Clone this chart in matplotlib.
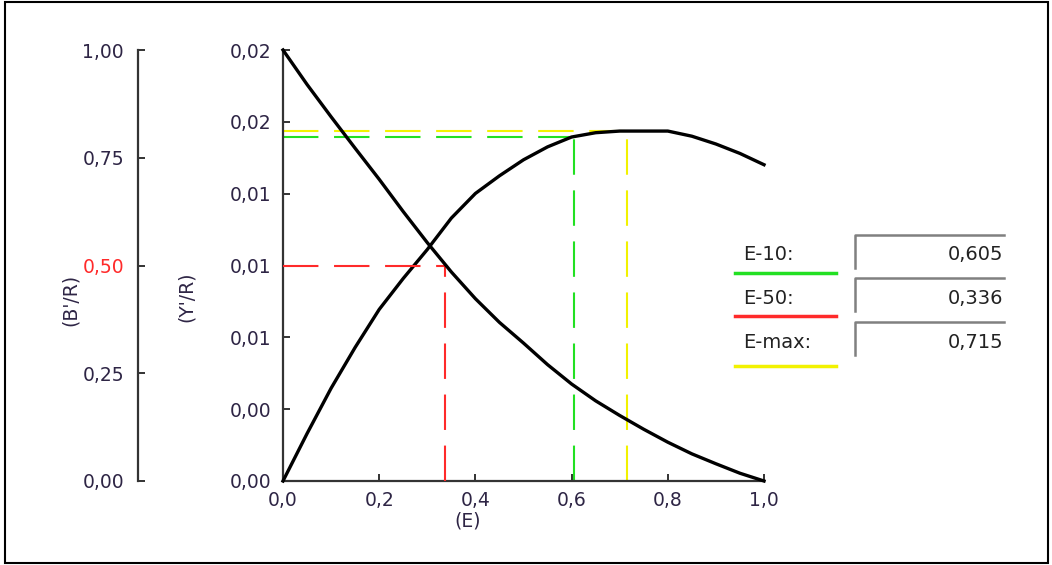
"""
Efficiency curves: B'/R (falling) and Y'/R (rising) against E,
with the E-10, E-50 and E-max markers and a value panel on the right.
"""
import matplotlib
matplotlib.use("Agg")
import matplotlib.pyplot as plt
from matplotlib.patches import Rectangle
from matplotlib.lines import Line2D
from matplotlib.ticker import FuncFormatter

# --- Data ---
e_vals = [0.0, 0.05, 0.1, 0.15, 0.2, 0.25, 0.3, 0.35, 0.4, 0.45, 0.5,
          0.55, 0.6, 0.65, 0.7, 0.75, 0.8, 0.85, 0.9, 0.95, 1.0]
b_r = [1.0, 0.92, 0.845, 0.772, 0.70, 0.625, 0.553, 0.485, 0.423, 0.368, 0.320,
       0.270, 0.225, 0.186, 0.152, 0.120, 0.090, 0.063, 0.040, 0.018, 0.0]
y_r = [0.0, 0.00231, 0.00452, 0.00651, 0.00836, 0.00987, 0.01128, 0.01281,
       0.01401, 0.01487, 0.01565, 0.01628, 0.01676, 0.01697, 0.01705, 0.01705,
       0.01705, 0.01680, 0.01642, 0.01596, 0.01541]

e10, e50, emax = 0.605, 0.336, 0.715
y_e10 = 0.01676
y_emax = 0.01705
b_half = 0.50

y_ticks = [0.0, 0.0035, 0.007, 0.0105, 0.014, 0.0175, 0.021]
b_ticks = [0.0, 0.25, 0.50, 0.75, 1.00]
x_ticks = [0.0, 0.2, 0.4, 0.6, 0.8, 1.0]

TXT = "#2e2545"
GREEN = "#22e022"
RED = "#ff2a2a"
YELLOW = "#f2f200"
DASH = (17, 7.5)
FS = 13.5

plt.rcParams["font.family"] = ["DejaVu Sans"]

W, H = 1052, 565
fig = plt.figure(figsize=(W / 100, H / 100), dpi=100)

def fx(px):
    return px / W

def fy(py):
    return 1 - py / H

# main axes (Y'/R)
ax = fig.add_axes([fx(283), fy(481), fx(764) - fx(283), fy(50) - fy(481)])
ax.set_xlim(0, 1)
ax.set_ylim(0, 0.021)
for s in ["top", "right"]:
    ax.spines[s].set_visible(False)
for s in ["left", "bottom"]:
    ax.spines[s].set_linewidth(1.6)
    ax.spines[s].set_color("#333333")

comma = lambda fmt: FuncFormatter(lambda v, p: format(v, fmt).replace(".", ","))
ax.set_yticks(y_ticks)
ax.yaxis.set_major_formatter(comma(".2f"))
ax.set_xticks(x_ticks)
ax.xaxis.set_major_formatter(comma(".1f"))
ax.tick_params(axis="y", direction="in", length=5, width=1.4, pad=8.5,
               labelsize=FS, labelcolor=TXT, color="#333333")
ax.tick_params(axis="x", direction="in", length=5, width=1.4, pad=7,
               labelsize=FS, labelcolor=TXT, color="#333333")

# left axis (B'/R)
bx = ax.twinx()
bx.set_ylim(0, 1)
bx.yaxis.tick_left()
bx.spines["left"].set_position(("axes", (138 - 283) / 481))
bx.spines["left"].set_linewidth(1.6)
bx.spines["left"].set_color("#333333")
for s in ["right", "top", "bottom"]:
    bx.spines[s].set_visible(False)
bx.set_yticks(b_ticks)
bx.yaxis.set_major_formatter(comma(".2f"))
bx.tick_params(axis="y", direction="in", length=5, width=1.4, pad=10,
               labelsize=FS, labelcolor=TXT, color="#333333")
for lab, tk, v in zip(bx.get_yticklabels(), bx.yaxis.get_major_ticks(), b_ticks):
    if abs(v - 0.5) < 1e-9:
        lab.set_color(RED)
        tk.tick1line.set_color(RED)

# marker lines
ax.plot([0, e10], [y_e10, y_e10], color=GREEN, lw=1.5, dashes=DASH, zorder=2)
ax.plot([e10, e10], [0, y_e10], color=GREEN, lw=1.5, dashes=DASH, zorder=2)
ax.plot([0, emax], [y_emax, y_emax], color=YELLOW, lw=1.5, dashes=DASH, zorder=2)
ax.plot([emax, emax], [0, y_emax], color=YELLOW, lw=1.5, dashes=DASH, zorder=2)
bx.plot([0, e50], [b_half, b_half], color=RED, lw=1.5, dashes=DASH, zorder=2)
bx.plot([e50, e50], [0, b_half], color=RED, lw=1.5, dashes=DASH, zorder=2)

# curves
ax.plot(e_vals, y_r, color="black", lw=2.4, zorder=3, clip_on=False)
bx.plot(e_vals, b_r, color="black", lw=2.4, zorder=3, clip_on=False)

# axis titles
fig.text(fx(70), fy(300), "(B'/R)", rotation=90, ha="center", va="center",
         fontsize=FS, color=TXT)
fig.text(fx(186), fy(297), "(Y'/R)", rotation=90, ha="center", va="center",
         fontsize=FS, color=TXT)
fig.text(fx(468), fy(521), "(E)", ha="center", va="center", fontsize=FS, color=TXT)

# value panel
panel = [("E-10:", e10, GREEN, 255), ("E-50:", e50, RED, 298), ("E-max:", emax, YELLOW, 342)]
for name, val, col, yc in panel:
    fig.text(fx(743), fy(yc), name, ha="left", va="center", fontsize=14, color="#222222")
    line_y = yc + 18 if name != "E-max:" else yc + 24
    fig.add_artist(Line2D([fx(735), fx(836)], [fy(line_y), fy(line_y)],
                          color=col, lw=2.5, transform=fig.transFigure))
    top = yc - 20
    fig.add_artist(Line2D([fx(855), fx(855), fx(1004)], [fy(top + 33), fy(top), fy(top)],
                          color="#808080", lw=1.8, transform=fig.transFigure))
    fig.text(fx(1003), fy(yc), format(val, ".3f").replace(".", ","),
             ha="right", va="center", fontsize=14, color="#222222")

# frame round the whole figure
fig.add_artist(Rectangle((fx(5), fy(563)), fx(1048) - fx(5), fy(2) - fy(563),
                         fill=False, edgecolor="black", lw=1.5,
                         transform=fig.transFigure))

fig.savefig("out.png", dpi=100)
